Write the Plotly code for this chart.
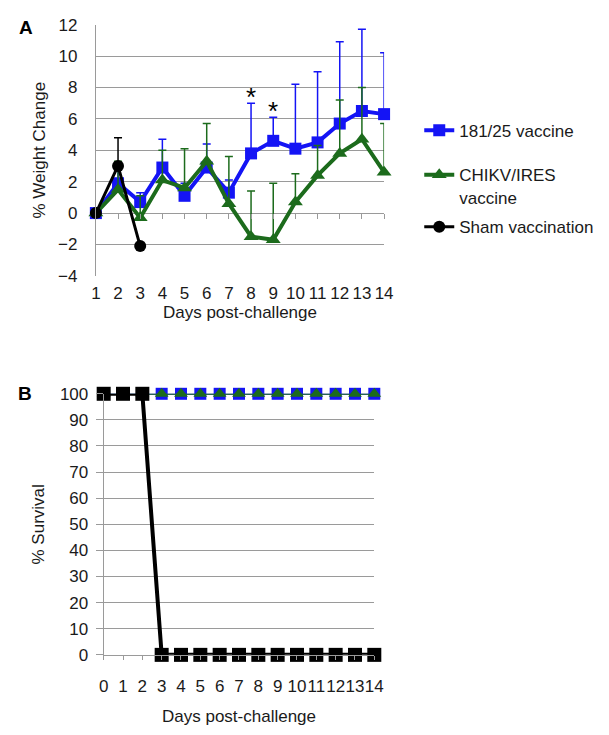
import plotly.graph_objects as go

# ---------------- data ----------------
days_a = list(range(1, 15))
vacc_181 = [0, 1.9, 0.7, 2.9, 1.1, 2.9, 1.3, 3.8, 4.6, 4.1, 4.5, 5.7, 6.5, 6.3]
vacc_181_err = [0, 1.2, 0.6, 1.8, 0.8, 1.5, 0.8, 3.2, 1.5, 4.1, 4.5, 5.2, 5.2, 3.9]
chikv = [0, 1.5, -0.3, 2.1, 1.6, 3.3, 0.6, -1.5, -1.7, 0.7, 2.4, 3.8, 4.7, 2.6]
chikv_err = [0, 1.8, 1.4, 1.9, 2.5, 2.4, 3.0, 2.9, 3.6, 1.8, 1.9, 3.4, 3.3, 3.1]
sham_days = [1, 2, 3]
sham = [0, 3.0, -2.1]
sham_err = [0, 1.8, 0]
signif_days = [8, 9]

days_b = list(range(0, 15))
surv_181 = [100] * 15
surv_chikv = [100] * 15
surv_sham = [100, 100, 100] + [0] * 12

names = ["181/25 vaccine", "CHIKV/IRES<br>vaccine", "Sham vaccination"]

# ---------------- style ----------------
W, H = 609, 735
BLUE = "#1414f5"
GREEN = "#1c6b1c"
BLACK = "#000000"
GRID = "#9a9a9a"
TXT = "#1a1a1a"
FONT = "Liberation Sans, Arial, sans-serif"
FS = 17

def px_x(a, b):
    return [a / W, b / W]

def px_y(top, bottom):
    return [1 - bottom / H, 1 - top / H]

domA_x = px_x(93, 388)
domA_y = px_y(16, 274)
domB_x = px_x(101, 378)
domB_y = px_y(395, 663)
yA_range = [-4, 12]

fig = go.Figure()

def err(arr, color):
    return dict(type="data", array=arr, arrayminus=[0] * len(arr), symmetric=False,
                color=color, thickness=1.5, width=4)

# Panel A
fig.add_trace(go.Scatter(x=days_a, y=vacc_181, mode="lines+markers", name=names[0],
                         line=dict(color=BLUE, width=4),
                         marker=dict(symbol="square", size=12, color=BLUE),
                         error_y=err(vacc_181_err, BLUE), cliponaxis=False,
                         xaxis="x", yaxis="y", legend="legend"))
fig.add_trace(go.Scatter(x=days_a, y=chikv, mode="lines+markers", name=names[1],
                         line=dict(color=GREEN, width=4),
                         marker=dict(symbol="triangle-up", size=13, color=GREEN),
                         error_y=err(chikv_err, GREEN), cliponaxis=False,
                         xaxis="x", yaxis="y", legend="legend2"))
fig.add_trace(go.Scatter(x=sham_days, y=sham, mode="lines+markers", name=names[2],
                         line=dict(color=BLACK, width=3),
                         marker=dict(symbol="circle", size=12, color=BLACK),
                         error_y=err(sham_err, BLACK), cliponaxis=False,
                         xaxis="x", yaxis="y", legend="legend3"))
# invisible trace carrying the labelled bottom axis of panel A
fig.add_trace(go.Scatter(x=days_a, y=vacc_181, mode="none", showlegend=False,
                         hoverinfo="skip", xaxis="x3", yaxis="y"))

# Panel B
fig.add_trace(go.Scatter(x=days_b, y=surv_181, mode="lines+markers", showlegend=False,
                         line=dict(color=BLUE, width=2),
                         marker=dict(symbol="square", size=12, color=BLUE),
                         cliponaxis=False, xaxis="x2", yaxis="y2"))
fig.add_trace(go.Scatter(x=days_b, y=surv_chikv, mode="lines+markers", showlegend=False,
                         line=dict(color=GREEN, width=2),
                         marker=dict(symbol="triangle-up", size=12, color=GREEN),
                         cliponaxis=False, xaxis="x2", yaxis="y2"))
fig.add_trace(go.Scatter(x=days_b, y=surv_sham, mode="lines+markers", showlegend=False,
                         line=dict(color=BLACK, width=4),
                         marker=dict(symbol="square", size=14, color=BLACK),
                         cliponaxis=False, xaxis="x2", yaxis="y2"))

tickfont = dict(family=FONT, size=FS, color=TXT)

zero_pos = domA_y[0] + (0 - yA_range[0]) / (yA_range[1] - yA_range[0]) * (domA_y[1] - domA_y[0])

fig.update_layout(
    width=W, height=H, autosize=False,
    margin=dict(l=0, r=0, t=0, b=0),
    paper_bgcolor="white", plot_bgcolor="white",
    font=dict(family=FONT, size=FS, color=TXT),
    # tick marks on the zero line (Excel-style category axis crossing at 0)
    xaxis=dict(domain=domA_x, range=[1, 14], tickmode="array", tickvals=days_a,
               anchor="free", position=zero_pos, showticklabels=False,
               showgrid=False, zeroline=False, showline=False,
               ticks="outside", ticklen=5, tickcolor=GRID, tickwidth=1),
    # labelled axis at the bottom of the plot
    xaxis3=dict(overlaying="x", anchor="y", side="bottom", range=[1, 14],
                tickmode="array", tickvals=days_a,
                showgrid=False, zeroline=False, showline=False, ticks="",
                tickfont=tickfont, ticklabelstandoff=5,
                title=dict(text="Days post-challenge", font=tickfont, standoff=0)),
    yaxis=dict(domain=domA_y, range=yA_range, dtick=2, anchor="x",
               showgrid=True, gridcolor=GRID, gridwidth=1, zeroline=False,
               showline=True, linecolor=GRID, linewidth=1, ticks="",
               tickfont=tickfont, ticklabelstandoff=14,
               title=dict(text="% Weight Change", font=tickfont, standoff=8)),
    xaxis2=dict(domain=domB_x, range=[0, 14], tickmode="array", tickvals=days_b,
                tickangle=0,
                showgrid=False, zeroline=False, showline=True, linecolor=GRID,
                ticks="outside", ticklen=4, tickcolor=GRID,
                tickfont=tickfont, ticklabelstandoff=12, anchor="y2",
                title=dict(text="Days post-challenge", font=tickfont, standoff=14)),
    yaxis2=dict(domain=domB_y, range=[0, 100], dtick=10, anchor="x2",
                showgrid=True, gridcolor=GRID, gridwidth=1, zeroline=False,
                showline=True, linecolor=GRID, linewidth=1,
                ticks="outside", ticklen=7, tickcolor=GRID,
                tickfont=tickfont, ticklabelstandoff=4,
                title=dict(text="% Survival", font=tickfont, standoff=10)),
)

leg_common = dict(font=dict(family=FONT, size=FS, color=TXT), bgcolor="rgba(0,0,0,0)",
                  xanchor="left", yanchor="middle", valign="top", borderwidth=0,
                  itemclick=False, itemdoubleclick=False)
fig.update_layout(
    legend=dict(x=424 / W, y=1 - 125 / H, **leg_common),
    legend2=dict(x=424 / W, y=1 - 182 / H, **leg_common),
    legend3=dict(x=424 / W, y=1 - 224 / H, **leg_common),
)

# significance asterisks above the 181/25 error bars
for d in signif_days:
    i = days_a.index(d)
    fig.add_annotation(x=d, y=vacc_181[i] + vacc_181_err[i], xref="x", yref="y",
                       text="*", showarrow=False, yanchor="bottom", yshift=-11,
                       font=dict(family=FONT, size=26, color=BLACK))

# panel labels
fig.add_annotation(x=21 / W, y=1 - 19 / H, xref="paper", yref="paper", text="<b>A</b>",
                   showarrow=False, xanchor="center", yanchor="middle",
                   font=dict(family=FONT, size=19, color=BLACK))
fig.add_annotation(x=20 / W, y=1 - 395 / H, xref="paper", yref="paper", text="<b>B</b>",
                   showarrow=False, xanchor="center", yanchor="middle",
                   font=dict(family=FONT, size=19, color=BLACK))

fig.write_html("out.html", post_script="document.body.style.margin='0';")
